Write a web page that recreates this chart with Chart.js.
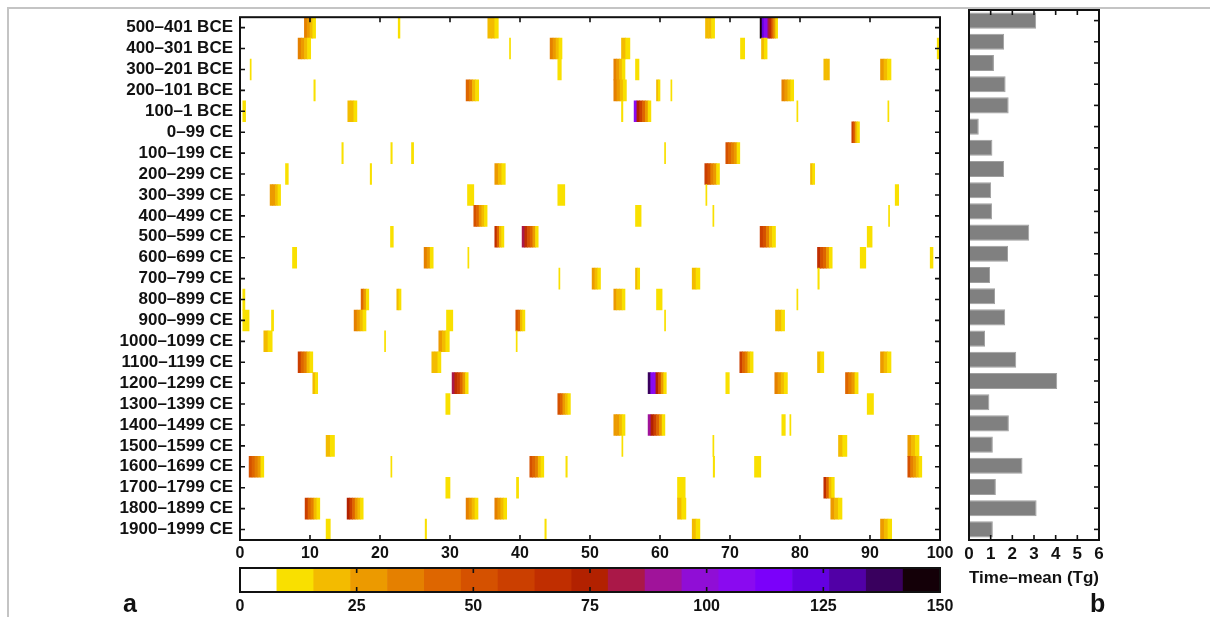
<!DOCTYPE html>
<html lang="en">
<head>
    <meta charset="UTF-8">
    <title>Volcanic sulfate by century</title>
    <script src="https://cdn.jsdelivr.net/npm/chart.js"></script>
    <style>
        body {
            margin: 0;
            width: 1210px;
            height: 617px;
            position: relative;
            overflow: hidden;
            background: #ffffff;
            font-family: "Liberation Sans", Arial, sans-serif;
        }
        .frame {
            position: absolute;
            left: 7px;
            top: 7px;
            width: 1220px;
            height: 620px;
            border-top: 2px solid #c4c4c4;
            border-left: 2px solid #c4c4c4;
        }
        canvas {
            position: absolute;
        }
        #heat { left: 0; top: 0; }
        #bars { left: 950px; top: 0; }
        #scale { left: 0; top: 560px; }
        .txt {
            position: absolute;
            font-weight: bold;
            color: #111;
        }
        #axisTitle { left: 960px; width: 148px; top: 568px; text-align: center; font-size: 17px; }
        #panelA { left: 123px; top: 589px; font-size: 25px; }
        #panelB { left: 1090px; top: 589px; font-size: 25px; }
    </style>
</head>
<body>
    <div class="frame"></div>
    <canvas id="heat" width="960" height="565"></canvas>
    <canvas id="bars" width="260" height="565"></canvas>
    <canvas id="scale" width="960" height="57"></canvas>
    <div class="txt" id="axisTitle">Time–mean (Tg)</div>
    <div class="txt" id="panelA">a</div>
    <div class="txt" id="panelB">b</div>

    <script>
        // Row categories (centuries)
        const centuries = [
            '500–401 BCE', '400–301 BCE', '300–201 BCE', '200–101 BCE', '100–1 BCE',
            '0–99 CE', '100–199 CE', '200–299 CE', '300–399 CE', '400–499 CE',
            '500–599 CE', '600–699 CE', '700–799 CE', '800–899 CE', '900–999 CE',
            '1000–1099 CE', '1100–1199 CE', '1200–1299 CE', '1300–1399 CE', '1400–1499 CE',
            '1500–1599 CE', '1600–1699 CE', '1700–1799 CE', '1800–1899 CE', '1900–1999 CE'
        ];

        // Panel b: time-mean loading per century (Tg)
        const timeMean = [
            3.1, 1.62, 1.15, 1.69, 1.83, 0.45, 1.08, 1.62, 1.02, 1.06,
            2.78, 1.8, 0.97, 1.2, 1.67, 0.74, 2.18, 4.07, 0.94, 1.84,
            1.1, 2.47, 1.24, 3.12, 1.1
        ];

        // Colour levels of the colour bar (Tg) and their colours
        const colorEdges = [0, 7.9, 15.8, 23.7, 31.6, 39.5, 47.4, 55.3, 63.2, 71.1,
            78.9, 86.8, 94.7, 102.6, 110.5, 118.4, 126.3, 134.2, 142.1, 150];
        const colorLevels = [
            '#ffffff', '#f9e000', '#f3bb00', '#ec9a00', '#e58000', '#de6600',
            '#d55100', '#cb3f00', '#c02e00', '#b22100', '#aa1848', '#a0139a',
            '#900ed6', '#8a0af0', '#7b00fa', '#6400e0', '#5100a6', '#39005e', '#140008'
        ];

        // Panel a: eruption signals, [row, start year, end year, values left to right]
        const events = [
            [0, 9.2, 10.8, [36, 28, 20, 12]],
            [0, 22.6, 22.85, [12]],
            [0, 35.4, 36.9, [22, 16, 12]],
            [0, 66.5, 67.8, [22, 16, 12]],
            [0, 74.3, 76.8, [145, 120, 108, 105, 80, 65, 45, 28, 14]],
            [1, 8.3, 10.1, [34, 28, 22, 14]],
            [1, 38.5, 38.65, [10]],
            [1, 44.3, 46.0, [36, 28, 20, 13]],
            [1, 54.5, 55.7, [20, 14]],
            [1, 71.5, 72.1, [13]],
            [1, 74.5, 75.3, [20, 13]],
            [1, 99.6, 99.9, [12]],
            [2, 1.45, 1.6, [10]],
            [2, 45.4, 45.9, [12]],
            [2, 53.4, 55.0, [35, 28, 20, 12]],
            [2, 56.5, 57.0, [12]],
            [2, 83.4, 84.2, [20, 16]],
            [2, 91.5, 93.0, [24, 20, 14]],
            [3, 10.55, 10.75, [12]],
            [3, 32.3, 34.1, [40, 32, 22, 14]],
            [3, 53.4, 55.2, [36, 28, 20, 13]],
            [3, 59.5, 60.0, [20, 12]],
            [3, 61.55, 61.7, [10]],
            [3, 77.4, 79.1, [36, 28, 20, 13]],
            [4, 0.4, 0.8, [12]],
            [4, 15.4, 16.7, [22, 16, 12]],
            [4, 54.5, 54.7, [12]],
            [4, 56.3, 58.7, [105, 75, 60, 45, 30, 14]],
            [4, 79.55, 79.7, [10]],
            [4, 92.55, 92.7, [10]],
            [5, 87.4, 88.5, [58, 40, 20, 12]],
            [6, 14.55, 14.75, [12]],
            [6, 21.55, 21.75, [12]],
            [6, 24.5, 24.8, [14]],
            [6, 60.65, 60.8, [10]],
            [6, 69.4, 71.4, [52, 44, 34, 24, 14]],
            [7, 6.5, 6.9, [12]],
            [7, 18.6, 18.8, [12]],
            [7, 36.4, 37.9, [26, 20, 13]],
            [7, 66.4, 68.5, [60, 48, 36, 24, 13]],
            [7, 81.5, 82.1, [20, 12]],
            [8, 4.3, 5.8, [30, 24, 18, 12]],
            [8, 32.5, 33.4, [12]],
            [8, 45.4, 46.4, [12]],
            [8, 66.55, 66.7, [10]],
            [8, 93.6, 94.1, [12]],
            [9, 33.4, 35.3, [50, 40, 30, 20, 12]],
            [9, 56.5, 57.3, [12]],
            [9, 67.55, 67.7, [10]],
            [9, 92.65, 92.8, [10]],
            [10, 21.5, 21.9, [12]],
            [10, 36.4, 37.7, [65, 40, 20, 12]],
            [10, 40.3, 42.6, [84, 68, 55, 40, 25, 13]],
            [10, 74.3, 76.5, [60, 48, 34, 20, 12]],
            [10, 89.6, 90.3, [12]],
            [11, 7.5, 8.1, [12]],
            [11, 26.3, 27.6, [34, 24, 13]],
            [11, 32.55, 32.7, [10]],
            [11, 82.5, 84.6, [68, 54, 40, 26, 13]],
            [11, 88.6, 89.4, [12]],
            [11, 98.6, 99.0, [12]],
            [12, 45.55, 45.7, [11]],
            [12, 50.3, 51.5, [30, 20, 12]],
            [12, 56.5, 57.1, [20, 12]],
            [12, 64.6, 65.7, [22, 14]],
            [12, 82.55, 82.75, [12]],
            [13, 0.4, 0.7, [12]],
            [13, 17.3, 18.4, [45, 30, 14]],
            [13, 22.4, 23.0, [20, 12]],
            [13, 53.4, 55.0, [28, 22, 16, 12]],
            [13, 59.5, 60.3, [12]],
            [13, 79.55, 79.7, [11]],
            [14, 0.4, 1.3, [12]],
            [14, 4.5, 4.8, [12]],
            [14, 16.3, 18.0, [38, 30, 22, 13]],
            [14, 29.5, 30.4, [12]],
            [14, 39.4, 40.7, [55, 40, 22, 13]],
            [14, 60.65, 60.8, [11]],
            [14, 76.5, 77.8, [22, 16, 12]],
            [15, 3.4, 4.6, [22, 14]],
            [15, 20.65, 20.8, [10]],
            [15, 28.4, 29.9, [24, 18, 12]],
            [15, 39.45, 39.6, [12]],
            [16, 8.3, 10.4, [58, 46, 34, 22, 12]],
            [16, 27.4, 28.7, [22, 16, 12]],
            [16, 71.4, 73.3, [56, 44, 32, 20, 12]],
            [16, 82.5, 83.4, [20, 13]],
            [16, 91.5, 93.0, [24, 20, 13]],
            [17, 10.4, 11.1, [20, 13]],
            [17, 30.3, 32.6, [82, 68, 56, 42, 28, 14]],
            [17, 58.3, 60.9, [140, 108, 105, 72, 50, 30, 14]],
            [17, 69.4, 69.9, [12]],
            [17, 76.4, 78.2, [36, 28, 20, 12]],
            [17, 86.5, 88.3, [46, 36, 26, 14]],
            [18, 29.4, 30.0, [12]],
            [18, 45.4, 47.2, [50, 40, 28, 18, 12]],
            [18, 89.6, 90.5, [12]],
            [19, 53.4, 55.0, [30, 24, 18, 12]],
            [19, 58.3, 60.7, [92, 72, 60, 45, 28, 14]],
            [19, 77.4, 77.9, [12]],
            [19, 78.55, 78.7, [12]],
            [20, 12.3, 13.5, [20, 12]],
            [20, 54.55, 54.7, [10]],
            [20, 67.55, 67.7, [10]],
            [20, 85.5, 86.7, [22, 14]],
            [20, 95.4, 97.0, [24, 18, 12]],
            [21, 1.3, 3.4, [52, 44, 34, 24, 13]],
            [21, 21.55, 21.7, [10]],
            [21, 41.4, 43.4, [54, 44, 34, 22, 12]],
            [21, 46.55, 46.75, [12]],
            [21, 67.6, 67.8, [12]],
            [21, 73.5, 74.4, [12]],
            [21, 95.4, 97.4, [48, 38, 28, 18, 12]],
            [22, 29.4, 30.0, [12]],
            [22, 39.5, 39.8, [12]],
            [22, 62.5, 63.6, [12]],
            [22, 83.4, 84.9, [66, 46, 20, 12]],
            [23, 9.3, 11.4, [56, 44, 34, 22, 12]],
            [23, 15.3, 17.6, [72, 58, 44, 30, 18, 12]],
            [23, 32.3, 34.0, [36, 28, 18, 12]],
            [23, 36.4, 38.1, [36, 28, 18, 12]],
            [23, 62.5, 63.7, [16, 12]],
            [23, 84.4, 86.0, [30, 22, 14]],
            [24, 12.3, 12.9, [12]],
            [24, 26.45, 26.65, [12]],
            [24, 43.55, 43.75, [12]],
            [24, 64.6, 65.7, [22, 14]],
            [24, 91.5, 93.1, [24, 18, 12]]
        ];

        function levelColor(v) {
            for (let k = 0; k < colorLevels.length; k++) {
                if (v < colorEdges[k + 1]) return colorLevels[k];
            }
            return colorLevels[colorLevels.length - 1];
        }

        Chart.defaults.font.family = '"Liberation Sans", Arial, sans-serif';
        Chart.defaults.font.size = 16;
        Chart.defaults.font.weight = 'bold';
        Chart.defaults.color = '#111';
        Chart.defaults.animation = false;
        Chart.defaults.plugins.legend.display = false;
        Chart.defaults.plugins.tooltip.enabled = false;

        // inward tick marks on every side plus a black box round the plot area
        const innerTicks = {
            id: 'innerTicks',
            afterDatasetsDraw(chart, args, opts) {
                const { ctx, chartArea: a, scales } = chart;
                const len = opts.len || 5;
                ctx.save();
                ctx.strokeStyle = '#111';
                ctx.lineWidth = 1.6;
                const xs = scales.x;
                xs.ticks.forEach(t => {
                    if (t.value <= xs.min || t.value >= xs.max) return;
                    const px = xs.getPixelForValue(t.value);
                    ctx.beginPath();
                    ctx.moveTo(px, a.top); ctx.lineTo(px, a.top + len);
                    ctx.moveTo(px, a.bottom); ctx.lineTo(px, a.bottom - len);
                    ctx.stroke();
                });
                if (opts.rows) {
                    const ys = scales.y;
                    ys.getLabels().forEach((l, i) => {
                        const py = ys.getPixelForValue(i);
                        ctx.beginPath();
                        if (opts.left) { ctx.moveTo(a.left, py); ctx.lineTo(a.left + len, py); }
                        ctx.moveTo(a.right, py); ctx.lineTo(a.right - len, py);
                        ctx.stroke();
                    });
                }
                ctx.lineWidth = 2;
                ctx.strokeRect(a.left, a.top, a.width, a.height);
                ctx.restore();
            }
        };

        const flatGrid = { display: false, drawTicks: false };

        function createHeatmap() {
            const cells = [];
            events.forEach(([r, s, e, vals]) => {
                const w = (e - s) / vals.length;
                vals.forEach((v, k) => {
                    cells.push({ x: [s + k * w, s + (k + 1) * w], y: centuries[r], v: v });
                });
            });

            new Chart(document.getElementById('heat'), {
                type: 'bar',
                data: {
                    labels: centuries,
                    datasets: [{
                        data: cells,
                        backgroundColor: ctx => ctx.raw ? levelColor(ctx.raw.v) : '#ffffff',
                        borderWidth: 0,
                        barPercentage: 1,
                        categoryPercentage: 1
                    }]
                },
                options: {
                    indexAxis: 'y',
                    responsive: false,
                    layout: { padding: { top: 10, right: 20 } },
                    scales: {
                        x: {
                            type: 'linear',
                            min: 0,
                            max: 100,
                            ticks: { stepSize: 10, padding: 4 },
                            grid: flatGrid,
                            border: { display: false },
                            afterFit: s => { s.height = 25; }
                        },
                        y: {
                            ticks: { padding: 7, autoSkip: false, font: { size: 17 } },
                            grid: flatGrid,
                            border: { display: false },
                            afterFit: s => { s.width = 240; }
                        }
                    },
                    plugins: { innerTicks: { rows: true, left: true, len: 5 } }
                },
                plugins: [innerTicks]
            });
        }

        function createMeanBars() {
            new Chart(document.getElementById('bars'), {
                type: 'bar',
                data: {
                    labels: centuries,
                    datasets: [{
                        data: timeMean,
                        backgroundColor: '#808080',
                        borderColor: '#a0a0a0',
                        borderWidth: 1,
                        barPercentage: 0.76,
                        categoryPercentage: 1
                    }]
                },
                options: {
                    indexAxis: 'y',
                    responsive: false,
                    layout: { padding: { top: 10, left: 19, right: 111 } },
                    scales: {
                        x: {
                            min: 0,
                            max: 6,
                            ticks: { stepSize: 1, padding: 4, font: { size: 17 } },
                            grid: flatGrid,
                            border: { display: false },
                            afterFit: s => { s.height = 25; }
                        },
                        y: { display: false }
                    },
                    plugins: { innerTicks: { rows: true, left: false, len: 5 } }
                },
                plugins: [innerTicks]
            });
        }

        function createColorBar() {
            const bins = colorLevels.map((c, k) => ({ x: [colorEdges[k], colorEdges[k + 1]], y: '' }));
            new Chart(document.getElementById('scale'), {
                type: 'bar',
                data: {
                    labels: [''],
                    datasets: [{
                        data: bins,
                        backgroundColor: colorLevels,
                        borderWidth: 0,
                        barPercentage: 1,
                        categoryPercentage: 1
                    }]
                },
                options: {
                    indexAxis: 'y',
                    responsive: false,
                    layout: { padding: { top: 8, left: 240, right: 20 } },
                    scales: {
                        x: {
                            type: 'linear',
                            min: 0,
                            max: 150,
                            ticks: { stepSize: 25, padding: 5 },
                            grid: flatGrid,
                            border: { display: false },
                            afterFit: s => { s.height = 25; }
                        },
                        y: { display: false }
                    },
                    plugins: { innerTicks: { rows: false, len: 5 } }
                },
                plugins: [innerTicks]
            });
        }

        createHeatmap();
        createMeanBars();
        createColorBar();
    </script>
</body>
</html>
